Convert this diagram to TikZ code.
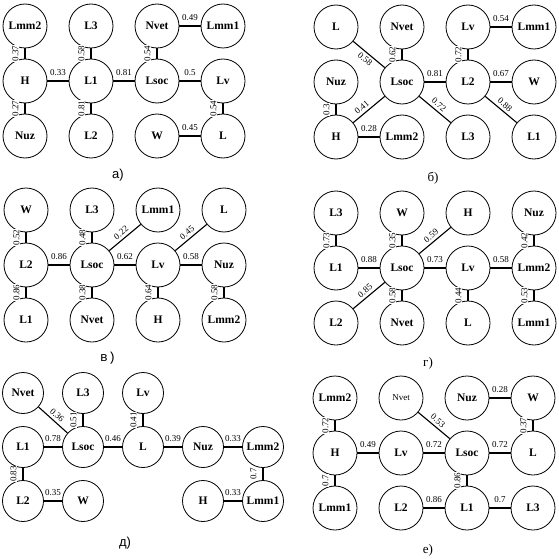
\documentclass[tikz,border=0pt]{standalone}
\usepackage{fontspec}
\setmainfont{Liberation Serif}
\newfontfamily\capsans{Liberation Sans}
\newfontfamily\capmono{Liberation Mono}

\begin{document}
\begin{tikzpicture}[
    x=1pt, y=-1pt,
    node distance=66pt,
    vertex/.style={circle, draw, line width=0.8pt, minimum size=44pt, inner sep=0pt,
        font=\fontsize{11.5}{12}\selectfont\bfseries},
    link/.style={line width=1.1pt},
    weight/.style={fill=white, inner sep=0.6pt, font=\fontsize{9}{9}\selectfont},
    wh/.style={weight, midway, anchor=south, outer sep=5pt},
    wv/.style={weight, midway, rotate=90, anchor=south, outer sep=6pt},
    wa/.style={weight, midway, sloped, anchor=south, outer sep=2.5pt},
    wb/.style={weight, midway, sloped, anchor=north, outer sep=2.5pt},
    caption/.style={font=\fontsize{13}{13}\selectfont}
]
    \path[use as bounding box, fill=white] (0,0) rectangle (559,559);

    % a)
    \node[vertex] (aLmm2) at (25,26) {Lmm2};
    \node[vertex, right of=aLmm2] (aL3) {L3};
    \node[vertex, right of=aL3] (aNvet) {Nvet};
    \node[vertex, right of=aNvet] (aLmm1) {Lmm1};
    \node[vertex, below of=aLmm2, yshift=11pt] (aH) {H};
    \node[vertex, right of=aH] (aL1) {L1};
    \node[vertex, right of=aL1] (aLsoc) {Lsoc};
    \node[vertex, right of=aLsoc] (aLv) {Lv};
    \node[vertex, below of=aH, yshift=11pt] (aNuz) {Nuz};
    \node[vertex, right of=aNuz] (aL2) {L2};
    \node[vertex, right of=aL2] (aW) {W};
    \node[vertex, right of=aW] (aL) {L};
    \node[caption] (acap) at (118,175) {\capsans а)};

    \draw[link] (aLmm2) -- node[wv] {0.37} (aH);
    \draw[link] (aL3) -- node[wv] {0.58} (aL1);
    \draw[link] (aNvet) -- node[wv] {0.54} (aLsoc);
    \draw[link] (aNvet) -- node[wh] {0.49} (aLmm1);
    \draw[link] (aH) -- node[wh] {0.33} (aL1);
    \draw[link] (aL1) -- node[wh] {0.81} (aLsoc);
    \draw[link] (aLsoc) -- node[wh] {0.5} (aLv);
    \draw[link] (aNuz) -- node[wv] {0.27} (aH);
    \draw[link] (aL2) -- node[wv] {0.81} (aL1);
    \draw[link] (aL) -- node[wv] {0.54} (aLv);
    \draw[link] (aW) -- node[wh] {0.45} (aL);

    % b)
    \node[vertex] (bL) at (336,27) {L};
    \node[vertex, right of=bL] (bNvet) {Nvet};
    \node[vertex, right of=bNvet] (bLv) {Lv};
    \node[vertex, right of=bLv] (bLmm1) {Lmm1};
    \node[vertex, below of=bL, yshift=11pt] (bNuz) {Nuz};
    \node[vertex, right of=bNuz] (bLsoc) {Lsoc};
    \node[vertex, right of=bLsoc] (bL2) {L2};
    \node[vertex, right of=bL2] (bW) {W};
    \node[vertex, below of=bNuz, yshift=11pt] (bH) {H};
    \node[vertex, right of=bH] (bLmm2) {Lmm2};
    \node[vertex, right of=bLmm2] (bL3) {L3};
    \node[vertex, right of=bL3] (bL1) {L1};
    \node[caption] (bcap) at (433,178) {б)};

    \draw[link] (bL) -- node[wb] {0.58} (bLsoc);
    \draw[link] (bLsoc) -- node[wv] {0.62} (bNvet);
    \draw[link] (bLv) -- node[wh] {0.54} (bLmm1);
    \draw[link] (bL2) -- node[wv] {0.72} (bLv);
    \draw[link] (bLsoc) -- node[wh] {0.81} (bL2);
    \draw[link] (bL2) -- node[wh] {0.67} (bW);
    \draw[link] (bH) -- node[wv] {0.3} (bNuz);
    \draw[link] (bH) -- node[wa, pos=0.4] {0.41} (bLsoc);
    \draw[link] (bH) -- node[wh] {0.28} (bLmm2);
    \draw[link] (bLsoc) -- node[wa] {0.72} (bL3);
    \draw[link] (bL2) -- node[wa] {0.88} (bL1);

    % v)
    \node[vertex] (vW) at (26,210) {W};
    \node[vertex, right of=vW] (vL3) {L3};
    \node[vertex, right of=vL3] (vLmm1) {Lmm1};
    \node[vertex, right of=vLmm1] (vL) {L};
    \node[vertex, below of=vW, yshift=11pt] (vL2) {L2};
    \node[vertex, right of=vL2] (vLsoc) {Lsoc};
    \node[vertex, right of=vLsoc] (vLv) {Lv};
    \node[vertex, right of=vLv] (vNuz) {Nuz};
    \node[vertex, below of=vL2, yshift=11pt] (vL1) {L1};
    \node[vertex, right of=vL1] (vNvet) {Nvet};
    \node[vertex, right of=vNvet] (vH) {H};
    \node[vertex, right of=vH] (vLmm2) {Lmm2};
    \node[caption] (vcap) at (108,358) {\capmono в)};

    \draw[link] (vL2) -- node[wv] {0.52} (vW);
    \draw[link] (vLsoc) -- node[wv] {0.48} (vL3);
    \draw[link] (vLsoc) -- node[wa] {0.22} (vLmm1);
    \draw[link] (vL2) -- node[wh] {0.86} (vLsoc);
    \draw[link] (vLsoc) -- node[wh] {0.62} (vLv);
    \draw[link] (vLv) -- node[wa] {0.45} (vL);
    \draw[link] (vLv) -- node[wh] {0.58} (vNuz);
    \draw[link] (vL1) -- node[wv] {0.86} (vL2);
    \draw[link] (vNvet) -- node[wv] {0.38} (vLsoc);
    \draw[link] (vH) -- node[wv] {0.64} (vLv);
    \draw[link] (vLmm2) -- node[wv] {0.58} (vNuz);

    % g)
    \node[vertex] (gL3) at (336,213) {L3};
    \node[vertex, right of=gL3] (gW) {W};
    \node[vertex, right of=gW] (gH) {H};
    \node[vertex, right of=gH] (gNuz) {Nuz};
    \node[vertex, below of=gL3, yshift=11pt] (gL1) {L1};
    \node[vertex, right of=gL1] (gLsoc) {Lsoc};
    \node[vertex, right of=gLsoc] (gLv) {Lv};
    \node[vertex, right of=gLv] (gLmm2) {Lmm2};
    \node[vertex, below of=gL1, yshift=11pt] (gL2) {L2};
    \node[vertex, right of=gL2] (gNvet) {Nvet};
    \node[vertex, right of=gNvet] (gL) {L};
    \node[vertex, right of=gL] (gLmm1) {Lmm1};
    \node[caption] (gcap) at (428,363) {г)};

    \draw[link] (gL1) -- node[wv] {0.73} (gL3);
    \draw[link] (gLsoc) -- node[wv] {0.35} (gW);
    \draw[link] (gLsoc) -- node[wa] {0.59} (gH);
    \draw[link] (gLmm2) -- node[wv] {0.42} (gNuz);
    \draw[link] (gL1) -- node[wh] {0.88} (gLsoc);
    \draw[link] (gLsoc) -- node[wh] {0.73} (gLv);
    \draw[link] (gLv) -- node[wh] {0.58} (gLmm2);
    \draw[link] (gL2) -- node[wa] {0.85} (gLsoc);
    \draw[link] (gNvet) -- node[wv] {0.58} (gLsoc);
    \draw[link] (gL) -- node[wv] {0.44} (gLv);
    \draw[link] (gLmm1) -- node[wv] {0.53} (gLmm2);

    % d)
    \begin{scope}[node distance=60pt, vertex/.append style={minimum size=41pt}]
    \node[vertex] (dNvet) at (23,393) {Nvet};
    \node[vertex, right of=dNvet] (dL3) {L3};
    \node[vertex, right of=dL3] (dLv) {Lv};
    \node[vertex, below of=dNvet, yshift=6pt] (dL1) {L1};
    \node[vertex, right of=dL1] (dLsoc) {Lsoc};
    \node[vertex, right of=dLsoc] (dL) {L};
    \node[vertex, right of=dL] (dNuz) {Nuz};
    \node[vertex, right of=dNuz] (dLmm2) {Lmm2};
    \node[vertex, below of=dL1, yshift=6pt] (dL2) {L2};
    \node[vertex, right of=dL2] (dW) {W};
    \node[vertex, below of=dNuz, yshift=6pt] (dH) {H};
    \node[vertex, right of=dH] (dLmm1) {Lmm1};
    \end{scope}
    \node[caption] (dcap) at (125,543) {\capsans д)};

    \draw[link] (dNvet) -- node[wa] {0.36} (dLsoc);
    \draw[link] (dLsoc) -- node[wv] {0.51} (dL3);
    \draw[link] (dL) -- node[wv] {0.41} (dLv);
    \draw[link] (dL1) -- node[wh] {0.78} (dLsoc);
    \draw[link] (dLsoc) -- node[wh] {0.46} (dL);
    \draw[link] (dL) -- node[wh] {0.39} (dNuz);
    \draw[link] (dNuz) -- node[wh] {0.33} (dLmm2);
    \draw[link] (dLmm1) -- node[wv] {0.7} (dLmm2);
    \draw[link] (dL2) -- node[wv] {0.83} (dL1);
    \draw[link] (dL2) -- node[wh] {0.35} (dW);
    \draw[link] (dH) -- node[wh] {0.33} (dLmm1);

    % e)
    \node[vertex] (eLmm2) at (335,398) {Lmm2};
    \node[vertex, right of=eLmm2, font=\fontsize{9}{9}\selectfont] (eNvet) {Nvet};
    \node[vertex, right of=eNvet] (eNuz) {Nuz};
    \node[vertex, right of=eNuz] (eW) {W};
    \node[vertex, below of=eLmm2, yshift=11pt] (eH) {H};
    \node[vertex, right of=eH] (eLv) {Lv};
    \node[vertex, right of=eLv] (eLsoc) {Lsoc};
    \node[vertex, right of=eLsoc] (eL) {L};
    \node[vertex, below of=eH, yshift=11pt] (eLmm1) {Lmm1};
    \node[vertex, right of=eLmm1] (eL2) {L2};
    \node[vertex, right of=eL2] (eL1) {L1};
    \node[vertex, right of=eL1] (eL3) {L3};
    \node[caption] (ecap) at (428,550) {е)};

    \draw[link] (eH) -- node[wv] {0.72} (eLmm2);
    \draw[link] (eNvet) -- node[wa] {0.53} (eLsoc);
    \draw[link] (eNuz) -- node[wh] {0.28} (eW);
    \draw[link] (eL) -- node[wv] {0.37} (eW);
    \draw[link] (eH) -- node[wh] {0.49} (eLv);
    \draw[link] (eLv) -- node[wh] {0.72} (eLsoc);
    \draw[link] (eLsoc) -- node[wh] {0.72} (eL);
    \draw[link] (eLmm1) -- node[wv] {0.7} (eH);
    \draw[link] (eL1) -- node[wv] {0.86} (eLsoc);
    \draw[link] (eL2) -- node[wh] {0.86} (eL1);
    \draw[link] (eL1) -- node[wh] {0.7} (eL3);
\end{tikzpicture}
\end{document}
